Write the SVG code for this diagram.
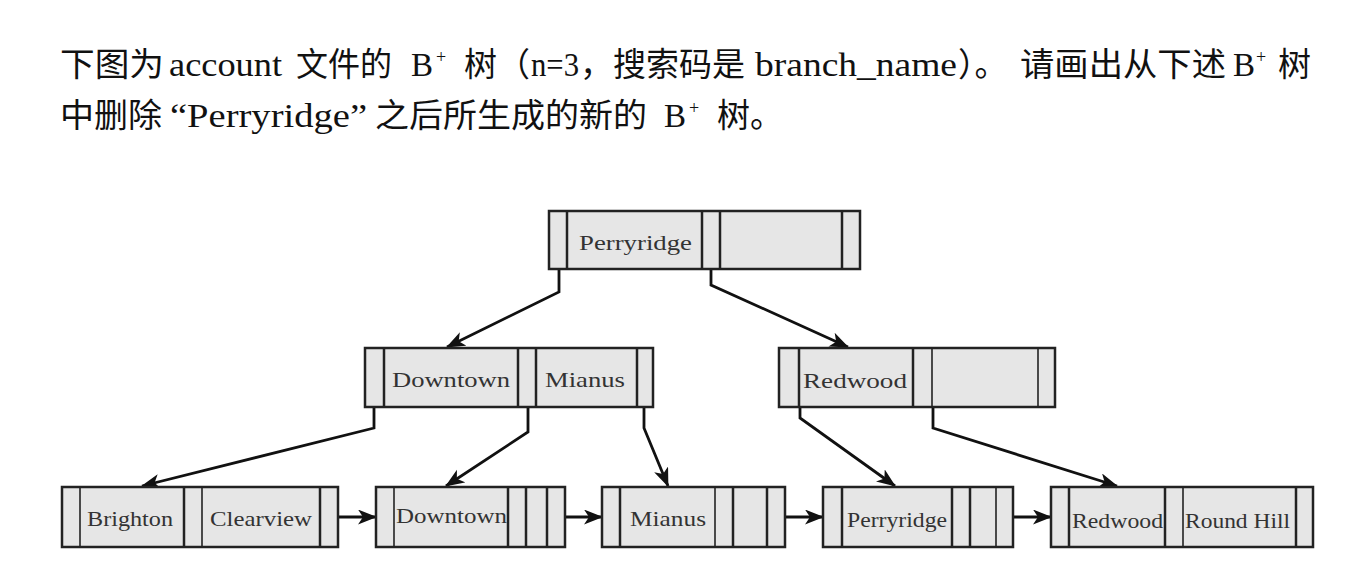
<svg xmlns="http://www.w3.org/2000/svg" width="1364" height="584" viewBox="0 0 1364 584">
<style>
.bg{fill:#fff}
.box{fill:#e6e6e6;stroke:#222;stroke-width:2.5}
.dv{stroke:#222;stroke-width:2.5}
.dt{stroke:#222;stroke-width:1.6}
.lbl{font-family:"Liberation Serif","Times New Roman",serif;font-size:22px;fill:#333}
.title{font-family:"Liberation Serif","Noto Sans CJK SC",serif;font-size:33px;fill:#111}
.sup{font-size:18px}
.conn{fill:none;stroke:#111;stroke-width:2.8;stroke-linejoin:miter}
</style>
<defs>
<marker id="ah" markerUnits="userSpaceOnUse" markerWidth="22" markerHeight="16" refX="18" refY="7.5" orient="auto">
<path d="M0,0 L19,7.5 L0,15 L5,7.5 Z" fill="#111"/>
</marker>
</defs>
<rect class="bg" x="0" y="0" width="1364" height="584"/>
<g id="title">
<text class="title" y="76"><tspan x="60" textLength="104" lengthAdjust="spacingAndGlyphs">下图为</tspan><tspan x="169" textLength="113" lengthAdjust="spacingAndGlyphs">account</tspan><tspan x="296" textLength="96" lengthAdjust="spacingAndGlyphs">文件的</tspan><tspan x="411">B</tspan><tspan x="436" dy="-13" class="sup">+</tspan><tspan x="464" dy="13">树（</tspan><tspan x="531" textLength="48" lengthAdjust="spacingAndGlyphs">n=3</tspan><tspan x="580">，搜索码是</tspan><tspan x="755" textLength="202" lengthAdjust="spacingAndGlyphs">branch_name</tspan><tspan x="958">）。</tspan><tspan x="1020" textLength="206" lengthAdjust="spacingAndGlyphs">请画出从下述</tspan><tspan x="1233">B</tspan><tspan x="1256" dy="-13" class="sup">+</tspan><tspan x="1278" dy="13">树</tspan></text>
<text class="title" y="127"><tspan x="60" textLength="102" lengthAdjust="spacingAndGlyphs">中删除</tspan><tspan x="170" textLength="197" lengthAdjust="spacingAndGlyphs">“Perryridge”</tspan><tspan x="375" textLength="272" lengthAdjust="spacingAndGlyphs">之后所生成的新的</tspan><tspan x="664">B</tspan><tspan x="689" dy="-13" class="sup">+</tspan><tspan x="717" dy="13">树。</tspan></text>
</g>
<g id="connectors">
<path class="conn" d="M559,258 V292 L447,347" marker-end="url(#ah)"/>
<path class="conn" d="M711,258 V285 L848,347" marker-end="url(#ah)"/>
<path class="conn" d="M374,395 V428 L142,486" marker-end="url(#ah)"/>
<path class="conn" d="M528,395 V432 L446,486" marker-end="url(#ah)"/>
<path class="conn" d="M644,395 V428 L668,486" marker-end="url(#ah)"/>
<path class="conn" d="M800,407 V418 L895,486" marker-end="url(#ah)"/>
<path class="conn" d="M933,395 V428 L1117,486" marker-end="url(#ah)"/>
<path class="conn" d="M329,517 H376" marker-end="url(#ah)"/>
<path class="conn" d="M556,517 H602" marker-end="url(#ah)"/>
<path class="conn" d="M776,517 H823" marker-end="url(#ah)"/>
<path class="conn" d="M1004,517 H1051" marker-end="url(#ah)"/>
</g>
<g id="root">
<rect class="box" x="549" y="211" width="311" height="58"/>
<line class="dv" x1="567" y1="211" x2="567" y2="269"/>
<line class="dv" x1="702" y1="211" x2="702" y2="269"/>
<line class="dv" x1="720" y1="211" x2="720" y2="269"/>
<line class="dv" x1="842" y1="211" x2="842" y2="269"/>
<text class="lbl" x="579" y="250" font-size="24" textLength="113" lengthAdjust="spacingAndGlyphs">Perryridge</text>
</g>
<g id="inner-left">
<rect class="box" x="365" y="348" width="288" height="59"/>
<line class="dv" x1="384" y1="348" x2="384" y2="407"/>
<line class="dv" x1="518" y1="348" x2="518" y2="407"/>
<line class="dv" x1="536" y1="348" x2="536" y2="407"/>
<line class="dv" x1="637" y1="348" x2="637" y2="407"/>
<text class="lbl" x="392" y="387" font-size="23" textLength="118" lengthAdjust="spacingAndGlyphs">Downtown</text>
<text class="lbl" x="545" y="387" font-size="23" textLength="80" lengthAdjust="spacingAndGlyphs">Mianus</text>
</g>
<g id="inner-right">
<rect class="box" x="779" y="348" width="276" height="59"/>
<line class="dv" x1="799" y1="348" x2="799" y2="407"/>
<line class="dv" x1="913" y1="348" x2="913" y2="407"/>
<line class="dt" x1="932" y1="348" x2="932" y2="407"/>
<line class="dt" x1="1038" y1="348" x2="1038" y2="407"/>
<text class="lbl" x="803" y="388" font-size="23" textLength="104" lengthAdjust="spacingAndGlyphs">Redwood</text>
</g>
<g id="leaf-1">
<rect class="box" x="62" y="487" width="276" height="60"/>
<line class="dt" x1="80" y1="487" x2="80" y2="547"/>
<line class="dv" x1="184" y1="487" x2="184" y2="547"/>
<line class="dt" x1="202" y1="487" x2="202" y2="547"/>
<line class="dv" x1="320" y1="487" x2="320" y2="547"/>
<text class="lbl" x="87" y="526" textLength="86" lengthAdjust="spacingAndGlyphs">Brighton</text>
<text class="lbl" x="210" y="526" textLength="102" lengthAdjust="spacingAndGlyphs">Clearview</text>
</g>
<g id="leaf-2">
<rect class="box" x="376" y="487" width="189" height="60"/>
<line class="dt" x1="394" y1="487" x2="394" y2="547"/>
<line class="dv" x1="508" y1="487" x2="508" y2="547"/>
<line class="dv" x1="526" y1="487" x2="526" y2="547"/>
<line class="dv" x1="547" y1="487" x2="547" y2="547"/>
<text class="lbl" x="396" y="523" textLength="111" lengthAdjust="spacingAndGlyphs">Downtown</text>
</g>
<g id="leaf-3">
<rect class="box" x="602" y="487" width="183" height="60"/>
<line class="dv" x1="620" y1="487" x2="620" y2="547"/>
<line class="dt" x1="715" y1="487" x2="715" y2="547"/>
<line class="dv" x1="733" y1="487" x2="733" y2="547"/>
<line class="dv" x1="767" y1="487" x2="767" y2="547"/>
<text class="lbl" x="630" y="526" textLength="76" lengthAdjust="spacingAndGlyphs">Mianus</text>
</g>
<g id="leaf-4">
<rect class="box" x="823" y="487" width="190" height="60"/>
<line class="dv" x1="842" y1="487" x2="842" y2="547"/>
<line class="dv" x1="952" y1="487" x2="952" y2="547"/>
<line class="dv" x1="970" y1="487" x2="970" y2="547"/>
<line class="dt" x1="996" y1="487" x2="996" y2="547"/>
<text class="lbl" x="847" y="527" textLength="100" lengthAdjust="spacingAndGlyphs">Perryridge</text>
</g>
<g id="leaf-5">
<rect class="box" x="1051" y="487" width="262" height="60"/>
<line class="dv" x1="1069" y1="487" x2="1069" y2="547"/>
<line class="dv" x1="1165" y1="487" x2="1165" y2="547"/>
<line class="dt" x1="1183" y1="487" x2="1183" y2="547"/>
<line class="dv" x1="1296" y1="487" x2="1296" y2="547"/>
<text class="lbl" x="1072" y="528" textLength="91" lengthAdjust="spacingAndGlyphs">Redwood</text>
<text class="lbl" x="1185" y="528" textLength="105" lengthAdjust="spacingAndGlyphs">Round Hill</text>
</g>
</svg>
